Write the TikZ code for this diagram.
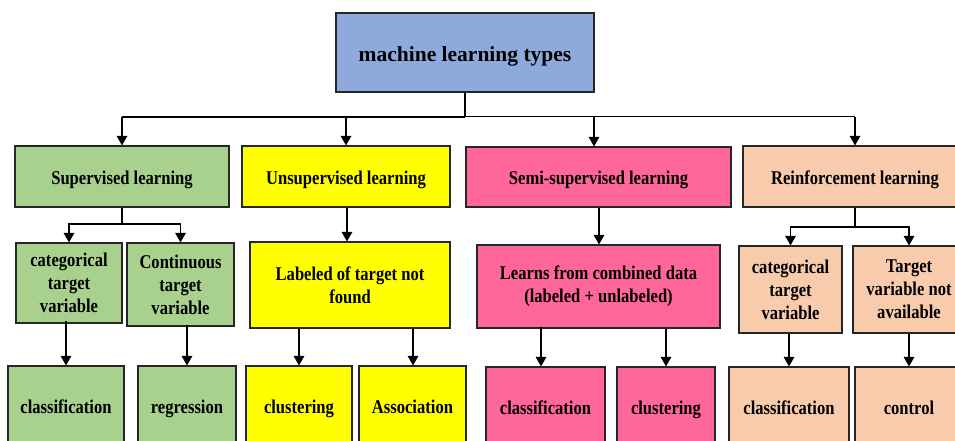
\documentclass[tikz,border=0pt]{standalone}
\usepackage{fontspec}
\setmainfont{Liberation Serif}
\newfontfamily\tallfont[FakeStretch=0.85]{Liberation Serif}
\usetikzlibrary{arrows.meta}
\definecolor{cblue}{RGB}{142,169,219}
\definecolor{cgreen}{RGB}{169,209,142}
\definecolor{cyellow}{RGB}{255,255,0}
\definecolor{cpink}{RGB}{255,102,153}
\definecolor{cpeach}{RGB}{248,203,173}
\begin{document}
\begin{tikzpicture}[x=1pt,y=-1pt,
  box/.style={draw=black!85, line width=1.1pt, inner sep=0pt, align=center,
    font=\tallfont\bfseries\fontsize{19.5}{23}\selectfont},
  wh/.style 2 args={minimum width=#1pt, minimum height=#2pt},
  one/.style={text height=15pt, text depth=0pt},
  low/.style={text height=12pt, text depth=0pt},
  arr/.style={line width=1.3pt, -{Triangle[width=10.5pt,length=9.5pt]}},
  ln/.style={line width=1.3pt}]
\useasboundingbox (0,0) rectangle (955,441);
\clip (0,0) rectangle (955,441);
% root
\node[box, fill=cblue, wh={258}{79}, text height=18pt, text depth=0pt, font=\bfseries\fontsize{21.5}{25}\selectfont] (root) at (465,52.5) {machine learning types};
% level 1
\node[box, one, fill=cgreen, wh={214}{61}] (sup) at (122,176.5) {Supervised learning};
\node[box, one, fill=cyellow, wh={208}{61}] (unsup) at (346,176.5) {Unsupervised learning};
\node[box, one, fill=cpink, wh={265}{60}] (semi) at (598.5,177) {Semi-supervised learning};
\node[box, one, fill=cpeach, wh={224}{61}] (reinf) at (855,176.5) {Reinforcement learning};
% level 2
\node[box, fill=cgreen, wh={106}{80}] (supcat) at (69,283) {categorical\\target\\variable};
\node[box, fill=cgreen, wh={107}{83}] (cont) at (180.5,284.5) {Continuous\\target\\variable};
\node[box, fill=cyellow, wh={200}{86}] (lab) at (350,285) {Labeled of target not\\found};
\node[box, fill=cpink, wh={243}{83}] (learns) at (598.5,286.5) {Learns from combined data\\(labeled + unlabeled)};
\node[box, fill=cpeach, wh={103}{87}] (rcat) at (790.5,289.5) {categorical\\target\\variable};
\node[box, fill=cpeach, wh={112}{87}] (tna) at (909,289.5) {Target\\variable not\\available};
% level 3
\node[box, low, fill=cgreen, wh={116}{82}] (c1) at (66,407) {classification};
\node[box, low, fill=cgreen, wh={98}{82}] (reg) at (187,407) {regression};
\node[box, low, fill=cyellow, wh={106}{82}] (clu1) at (299,407) {clustering};
\node[box, low, fill=cyellow, wh={107}{82}] (asso) at (412.5,407) {Association};
\node[box, low, fill=cpink, wh={119}{82}] (c2) at (545.5,408) {classification};
\node[box, low, fill=cpink, wh={98}{82}] (clu2) at (666,408) {clustering};
\node[box, low, fill=cpeach, wh={120}{82}] (c3) at (789,408) {classification};
\node[box, low, fill=cpeach, wh={108}{82}] (ctrl) at (909,408) {control};
% connectors from root
\coordinate (bus) at (465,117);
\draw[ln] (root.south) -- (bus);
\draw[line width=1.8pt] (bus) -- (bus -| sup.north);
\draw[line width=1pt] (bus) -- (bus -| reinf.north);
\coordinate (semiin) at ([xshift=-4.5pt]semi.north);
\draw[arr] (bus -| sup.north) -- (sup.north);
\draw[arr] (bus -| unsup.north) -- (unsup.north);
\draw[arr] (bus -| semiin) -- (semiin);
\draw[arr] (bus -| reinf.north) -- (reinf.north);
% supervised branch
\coordinate (sb) at (122,224);
\draw[ln] (sup.south) -- (sb);
\draw[arr] (sb) -| (supcat.north);
\draw[arr] (sb) -| (cont.north);
% unsupervised
\draw[arr] (unsup.south -| 347,0) -- (lab.north -| 347,0);
% semi
\draw[arr] (semi.south -| 599,0) -- (learns.north -| 599,0);
% reinforcement branch
\coordinate (rb) at (855,227);
\draw[ln] (reinf.south) -- (rb);
\draw[arr] (rb) -| (rcat.north);
\draw[arr] (rb) -| (tna.north);
% level 2 to level 3
\draw[arr] ([yshift=3pt]supcat.south -| c1.north) -- (c1.north);
\draw[arr] ([yshift=2pt]cont.south -| reg.north) -- (reg.north);
\draw[arr] (lab.south -| clu1.north) -- (clu1.north);
\coordinate (assoin) at ([xshift=0.5pt]asso.north);
\draw[arr] (lab.south -| assoin) -- (assoin);
\coordinate (c2in) at ([xshift=-4.5pt]c2.north);
\draw[arr] ([yshift=2pt]learns.south -| c2in) -- (c2in);
\draw[arr] (learns.south -| clu2.north) -- (clu2.north);
\draw[arr] (rcat.south -| c3.north) -- (c3.north);
\draw[arr] (tna.south -| ctrl.north) -- (ctrl.north);
\end{tikzpicture}
\end{document}
